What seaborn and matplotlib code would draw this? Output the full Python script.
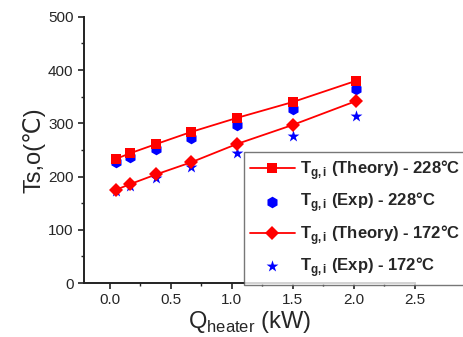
import numpy as np
import pandas as pd
import matplotlib
matplotlib.use("Agg")
import matplotlib.pyplot as plt
from matplotlib.ticker import MultipleLocator
import seaborn as sns

# heater power (kW)
q_heater = [0.05, 0.17, 0.38, 0.67, 1.04, 1.50, 2.02]
# temperatures
theory_228 = [233, 244, 261, 284, 310, 340, 380]
exp_228 = [227, 237, 251, 272, 296, 327, 365]
theory_172 = [175, 186, 204, 227, 261, 297, 342]
exp_172 = [172, 182, 197, 218, 245, 276, 313]

labels = [r"T$_{\mathbf{g,i}}$ (Theory) - 228°C",
          r"T$_{\mathbf{g,i}}$ (Exp) - 228°C",
          r"T$_{\mathbf{g,i}}$ (Theory) - 172°C",
          r"T$_{\mathbf{g,i}}$ (Exp) - 172°C"]

sns.set_style("ticks")
plt.rcParams['font.family'] = ['Liberation Sans', 'DejaVu Sans']
plt.rcParams['mathtext.fontset'] = 'custom'
plt.rcParams['mathtext.rm'] = 'Liberation Sans'
plt.rcParams['mathtext.bf'] = 'Liberation Sans:bold'

fig = plt.figure(figsize=(4.64, 3.37), dpi=100)
ax = fig.add_axes([0.181, 0.160, 0.713, 0.790])

df = pd.DataFrame({"q": q_heater, "t228": theory_228, "e228": exp_228,
                   "t172": theory_172, "e172": exp_172})

sns.lineplot(data=df, x="q", y="t228", ax=ax, color="#ff0000", marker="s",
             markersize=7, markeredgewidth=0, linewidth=1.3, label=labels[0])
sns.scatterplot(data=df, x="q", y="e228", ax=ax, color="#0000ff", marker="h",
                s=70, linewidth=0, label=labels[1], zorder=1)
sns.lineplot(data=df, x="q", y="t172", ax=ax, color="#ff0000", marker="D",
             markersize=7, markeredgewidth=0, linewidth=1.3, label=labels[2])
sns.scatterplot(data=df, x="q", y="e172", ax=ax, color="#0000ff", marker="*",
                s=80, linewidth=0, label=labels[3], zorder=1)

ax.set_xlim(-0.21, 2.5)
ax.set_ylim(0, 500)
ax.xaxis.set_minor_locator(MultipleLocator(0.25))
ax.yaxis.set_major_locator(MultipleLocator(100))
ax.yaxis.set_minor_locator(MultipleLocator(50))
ax.set_xticks([0.0, 0.5, 1.0, 1.5, 2.0, 2.5])
ax.set_xticklabels(["0.0", "0.5", "1.0", "1.5", "2.0", "2.5"])
ax.tick_params(axis="both", which="major", length=4, width=1.2, labelsize=11, color="#222222")
ax.tick_params(axis="both", which="minor", length=2.5, width=1.0, color="#222222")
for s in ["left", "bottom"]:
    ax.spines[s].set_linewidth(1.4)
    ax.spines[s].set_color("#222222")
sns.despine(ax=ax)

ax.set_ylabel("Ts,o(℃)", fontsize=17, labelpad=2)
ax.set_xlabel(r"Q$_{\rm heater}$ (kW)", fontsize=17, labelpad=1)

leg = ax.legend(loc="upper left", bbox_to_anchor=(0.526, 0.548), bbox_transform=fig.transFigure,
                prop={"weight": "bold", "size": 12}, frameon=True, fancybox=False,
                borderpad=0.35, borderaxespad=0, labelspacing=0.5, handlelength=2.7,
                handletextpad=0.3)
leg.get_frame().set_edgecolor("#555555")
leg.get_frame().set_linewidth(1.0)

fig.savefig("out.png", dpi=100)
